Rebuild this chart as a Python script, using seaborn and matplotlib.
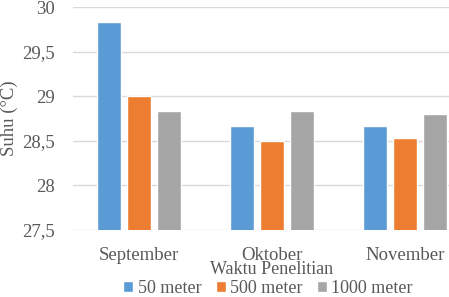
import matplotlib
matplotlib.use("Agg")
import matplotlib.pyplot as plt
import seaborn as sns
import pandas as pd
from matplotlib.patches import Patch
from matplotlib.ticker import FuncFormatter

months = ["September", "Oktober", "November"]
series = ["50 meter", "500 meter", "1000 meter"]
v50 = [29.83, 28.67, 28.67]
v500 = [29.0, 28.5, 28.53]
v1000 = [28.83, 28.83, 28.8]
yticks = [27.5, 28, 28.5, 29, 29.5, 30]
colors = ["#5B9BD5", "#ED7D31", "#A5A5A5"]

rows = []
for s, vals in zip(series, [v50, v500, v1000]):
    for m, v in zip(months, vals):
        rows.append({"Bulan": m, "Jarak": s, "Suhu": v})
df = pd.DataFrame(rows)

sns.set_style("white")
plt.rcParams["font.family"] = ["Liberation Serif", "DejaVu Serif"]
txt = "#595959"

fig = plt.figure(figsize=(4.49, 2.97), dpi=100)
ax = fig.add_axes([72.5 / 449, (297 - 230) / 297, 399 / 449, 223 / 297])

sns.barplot(data=df, x="Bulan", y="Suhu", hue="Jarak", order=months,
            hue_order=series, palette=colors, width=0.67, gap=0.2,
            ax=ax, legend=False, saturation=1, errorbar=None)

ax.set_ylim(27.5, 30)
ax.set_xlim(-0.5, 2.5)
ax.set_yticks(yticks)
ax.yaxis.set_major_formatter(FuncFormatter(lambda v, p: ("%g" % v).replace(".", ",")))
ax.grid(axis="y", color="#D9D9D9", linewidth=1)
ax.set_axisbelow(True)
for sp in ax.spines.values():
    sp.set_visible(False)
ax.tick_params(axis="both", length=0, labelsize=13.5, colors=txt)
ax.tick_params(axis="y", pad=13)
ax.tick_params(axis="x", pad=12.5)
ax.set_xlabel("Waktu Penelitian", fontsize=13, color=txt, labelpad=-2.2)
ax.set_ylabel("Suhu (°C)", fontsize=13.5, color=txt, labelpad=3)

handles = [Patch(facecolor=c, label=s) for c, s in zip(colors, series)]
fig.legend(handles=handles, loc="center", bbox_to_anchor=(268 / 449, 1 - 288.5 / 297),
           ncol=3, frameon=False, fontsize=13, handlelength=0.55, handleheight=0.55,
           handletextpad=0.25, columnspacing=0.8, labelcolor=txt, borderpad=0)

fig.savefig("out.png", dpi=100)
